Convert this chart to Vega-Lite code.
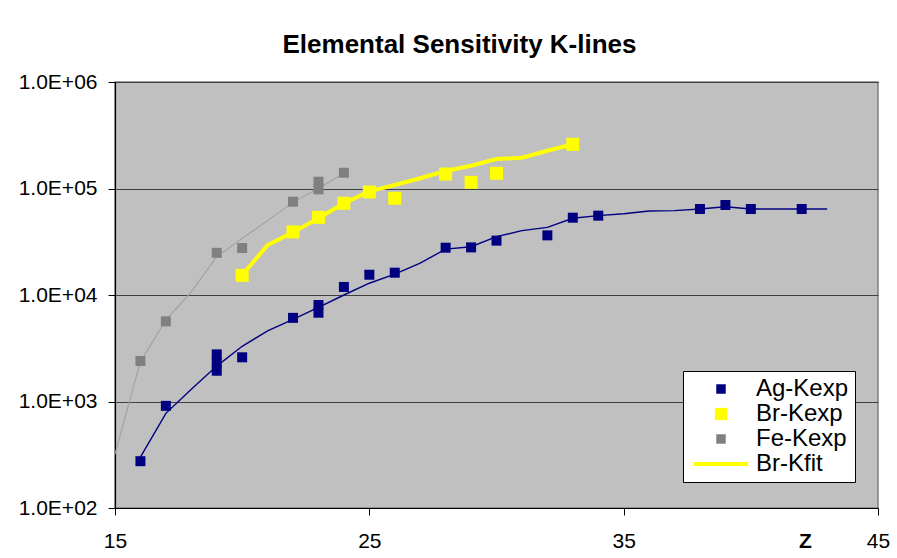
{
  "$schema": "https://vega.github.io/schema/vega-lite/v6.json",
  "width": 763,
  "height": 426,
  "autosize": {"type": "none"},
  "padding": {"left": 115, "top": 82, "right": 19, "bottom": 50},
  "background": "white",
  "title": {
    "text": "Elemental Sensitivity K-lines",
    "font": "Liberation Sans",
    "fontSize": 26,
    "fontWeight": "bold",
    "color": "black",
    "anchor": "middle",
    "dx": -37,
    "offset": 13
  },
  "data": {
    "values": [
      {"Z": 16, "v": 275, "s": "Ag-Kexp"},
      {"Z": 17, "v": 910, "s": "Ag-Kexp"},
      {"Z": 19, "v": 2770, "s": "Ag-Kexp"},
      {"Z": 19, "v": 2320, "s": "Ag-Kexp"},
      {"Z": 19, "v": 1945, "s": "Ag-Kexp"},
      {"Z": 20, "v": 2600, "s": "Ag-Kexp"},
      {"Z": 22, "v": 6100, "s": "Ag-Kexp"},
      {"Z": 23, "v": 8050, "s": "Ag-Kexp"},
      {"Z": 23, "v": 6820, "s": "Ag-Kexp"},
      {"Z": 24, "v": 11900, "s": "Ag-Kexp"},
      {"Z": 25, "v": 15500, "s": "Ag-Kexp"},
      {"Z": 26, "v": 16200, "s": "Ag-Kexp"},
      {"Z": 28, "v": 27800, "s": "Ag-Kexp"},
      {"Z": 29, "v": 28000, "s": "Ag-Kexp"},
      {"Z": 30, "v": 32400, "s": "Ag-Kexp"},
      {"Z": 32, "v": 36300, "s": "Ag-Kexp"},
      {"Z": 33, "v": 53200, "s": "Ag-Kexp"},
      {"Z": 34, "v": 55600, "s": "Ag-Kexp"},
      {"Z": 38, "v": 64200, "s": "Ag-Kexp"},
      {"Z": 39, "v": 70000, "s": "Ag-Kexp"},
      {"Z": 40, "v": 64200, "s": "Ag-Kexp"},
      {"Z": 42, "v": 64200, "s": "Ag-Kexp"},

      {"Z": 20, "v": 15300, "s": "Br-Kexp"},
      {"Z": 22, "v": 39100, "s": "Br-Kexp"},
      {"Z": 23, "v": 53600, "s": "Br-Kexp"},
      {"Z": 24, "v": 72600, "s": "Br-Kexp"},
      {"Z": 25, "v": 92700, "s": "Br-Kexp"},
      {"Z": 26, "v": 80900, "s": "Br-Kexp"},
      {"Z": 28, "v": 136800, "s": "Br-Kexp"},
      {"Z": 29, "v": 114300, "s": "Br-Kexp"},
      {"Z": 30, "v": 139000, "s": "Br-Kexp"},
      {"Z": 33, "v": 260000, "s": "Br-Kexp"},

      {"Z": 16, "v": 2400, "s": "Fe-Kexp"},
      {"Z": 17, "v": 5660, "s": "Fe-Kexp"},
      {"Z": 19, "v": 24900, "s": "Fe-Kexp"},
      {"Z": 20, "v": 27600, "s": "Fe-Kexp"},
      {"Z": 22, "v": 75200, "s": "Fe-Kexp"},
      {"Z": 23, "v": 115800, "s": "Fe-Kexp"},
      {"Z": 23, "v": 98200, "s": "Fe-Kexp"},
      {"Z": 24, "v": 140600, "s": "Fe-Kexp"},

      {"Z": 20, "v": 15400, "s": "Br-Kfit"},
      {"Z": 21, "v": 29400, "s": "Br-Kfit"},
      {"Z": 22, "v": 38800, "s": "Br-Kfit"},
      {"Z": 23, "v": 52500, "s": "Br-Kfit"},
      {"Z": 24, "v": 72600, "s": "Br-Kfit"},
      {"Z": 25, "v": 94000, "s": "Br-Kfit"},
      {"Z": 26, "v": 108000, "s": "Br-Kfit"},
      {"Z": 27, "v": 124700, "s": "Br-Kfit"},
      {"Z": 28, "v": 146000, "s": "Br-Kfit"},
      {"Z": 29, "v": 163700, "s": "Br-Kfit"},
      {"Z": 30, "v": 189000, "s": "Br-Kfit"},
      {"Z": 31, "v": 194600, "s": "Br-Kfit"},
      {"Z": 32, "v": 226000, "s": "Br-Kfit"},
      {"Z": 33, "v": 260000, "s": "Br-Kfit"},

      {"Z": 16, "v": 301, "s": "Ag-fit"},
      {"Z": 17, "v": 774, "s": "Ag-fit"},
      {"Z": 18, "v": 1300, "s": "Ag-fit"},
      {"Z": 19, "v": 2150, "s": "Ag-fit"},
      {"Z": 20, "v": 3300, "s": "Ag-fit"},
      {"Z": 21, "v": 4600, "s": "Ag-fit"},
      {"Z": 22, "v": 5900, "s": "Ag-fit"},
      {"Z": 23, "v": 7660, "s": "Ag-fit"},
      {"Z": 24, "v": 10000, "s": "Ag-fit"},
      {"Z": 25, "v": 12900, "s": "Ag-fit"},
      {"Z": 26, "v": 15700, "s": "Ag-fit"},
      {"Z": 27, "v": 19900, "s": "Ag-fit"},
      {"Z": 28, "v": 27000, "s": "Ag-fit"},
      {"Z": 29, "v": 28400, "s": "Ag-fit"},
      {"Z": 30, "v": 35300, "s": "Ag-fit"},
      {"Z": 31, "v": 40200, "s": "Ag-fit"},
      {"Z": 32, "v": 43200, "s": "Ag-fit"},
      {"Z": 33, "v": 52500, "s": "Ag-fit"},
      {"Z": 34, "v": 55600, "s": "Ag-fit"},
      {"Z": 35, "v": 58000, "s": "Ag-fit"},
      {"Z": 36, "v": 61500, "s": "Ag-fit"},
      {"Z": 37, "v": 62000, "s": "Ag-fit"},
      {"Z": 38, "v": 64200, "s": "Ag-fit"},
      {"Z": 39, "v": 67500, "s": "Ag-fit"},
      {"Z": 40, "v": 64200, "s": "Ag-fit"},
      {"Z": 41, "v": 64200, "s": "Ag-fit"},
      {"Z": 42, "v": 64200, "s": "Ag-fit"},
      {"Z": 43, "v": 64200, "s": "Ag-fit"},

      {"Z": 15, "v": 321, "s": "Fe-fit"},
      {"Z": 16, "v": 2370, "s": "Fe-fit"},
      {"Z": 17, "v": 5820, "s": "Fe-fit"},
      {"Z": 18, "v": 10700, "s": "Fe-fit"},
      {"Z": 19, "v": 22900, "s": "Fe-fit"},
      {"Z": 20, "v": 34000, "s": "Fe-fit"},
      {"Z": 21, "v": 49900, "s": "Fe-fit"},
      {"Z": 22, "v": 74100, "s": "Fe-fit"},
      {"Z": 23, "v": 100400, "s": "Fe-fit"},
      {"Z": 24, "v": 139000, "s": "Fe-fit"}
    ]
  },
  "encoding": {
    "x": {
      "field": "Z",
      "type": "quantitative",
      "scale": {"domain": [15, 45], "nice": false, "zero": false},
      "axis": {
        "values": [15, 25, 35, 45],
        "grid": false,
        "title": "Z",
        "titleFont": "Liberation Sans",
        "titleFontSize": 21,
        "titleFontWeight": "bold",
        "titleColor": "black",
        "titleX": 690,
        "titleY": 39,
        "titleAlign": "center",
        "titleBaseline": "alphabetic",
        "labelFont": "Liberation Sans",
        "labelFontSize": 21,
        "labelColor": "black",
        "labelPadding": 15,
        "labelFlush": false,
        "labelOverlap": false,
        "tickSize": 7,
        "tickColor": "black",
        "domainColor": "black",
        "domainWidth": 1.2
      }
    },
    "y": {
      "field": "v",
      "type": "quantitative",
      "scale": {"type": "log", "domain": [100, 1000000], "nice": false},
      "axis": {
        "values": [100, 1000, 10000, 100000, 1000000],
        "labelExpr": "'1.0E+0' + round(log(datum.value) / LN10)",
        "title": null,
        "grid": true,
        "gridColor": "#404040",
        "gridWidth": 1.2,
        "gridOpacity": 1,
        "labelFont": "Liberation Sans",
        "labelFontSize": 21,
        "labelColor": "black",
        "labelPadding": 11,
        "labelFlush": false,
        "labelOverlap": false,
        "tickSize": 7,
        "tickColor": "black",
        "domainColor": "black",
        "domainWidth": 1.2
      }
    },
    "color": {
      "field": "s",
      "type": "nominal",
      "scale": {
        "domain": ["Ag-Kexp", "Br-Kexp", "Fe-Kexp", "Br-Kfit", "Ag-fit", "Fe-fit"],
        "range": ["#000080", "#FFFF00", "#808080", "#FFFF00", "#000080", "#A0A0A0"]
      },
      "legend": {
        "values": ["Ag-Kexp", "Br-Kexp", "Fe-Kexp", "Br-Kfit"],
        "title": null,
        "orient": "none",
        "legendX": 568,
        "legendY": 289,
        "fillColor": "white",
        "strokeColor": "black",
        "padding": 6,
        "symbolSize": 100,
        "symbolOffset": 20,
        "labelOffset": 23,
        "rowPadding": 1,
        "labelFont": "Liberation Sans",
        "labelFontSize": 24,
        "labelColor": "black",
        "symbolType": "square",
        "encode": {
          "symbols": {
            "update": {
              "shape": {"signal": "datum.value === 'Br-Kfit' ? 'M-5.4,0H5.4' : 'square'"},
              "size": {"signal": "datum.value === 'Br-Kexp' ? 150 : datum.value === 'Br-Kfit' ? 100 : 90"},
              "strokeWidth": {"signal": "datum.value === 'Br-Kfit' ? 4 : 0"},
              "stroke": {"signal": "datum.value === 'Br-Kfit' ? '#FFFF00' : 'transparent'"},
              "fill": {"signal": "datum.value === 'Ag-Kexp' ? '#000080' : datum.value === 'Fe-Kexp' ? '#808080' : datum.value === 'Br-Kfit' ? 'transparent' : '#FFFF00'"},
              "opacity": {"value": 1}
            }
          }
        }
      }
    }
  },
  "layer": [
    {
      "transform": [{"filter": "datum.s === 'Fe-fit'"}],
      "mark": {"type": "line", "strokeWidth": 1.1}
    },
    {
      "transform": [{"filter": "datum.s === 'Ag-fit'"}],
      "mark": {"type": "line", "strokeWidth": 1.4}
    },
    {
      "transform": [{"filter": "datum.s === 'Br-Kfit'"}],
      "mark": {"type": "line", "strokeWidth": 4}
    },
    {
      "transform": [{"filter": "datum.s === 'Ag-Kexp' || datum.s === 'Br-Kexp' || datum.s === 'Fe-Kexp'"}],
      "mark": {"type": "point", "shape": "square", "filled": true, "opacity": 1},
      "encoding": {
        "size": {
          "condition": {"test": "datum.s === 'Br-Kexp'", "value": 169},
          "value": 100
        }
      }
    }
  ],
  "config": {
    "view": {"fill": "#C0C0C0", "stroke": "#808080", "strokeWidth": 1.5},
    "font": "Liberation Sans"
  }
}
